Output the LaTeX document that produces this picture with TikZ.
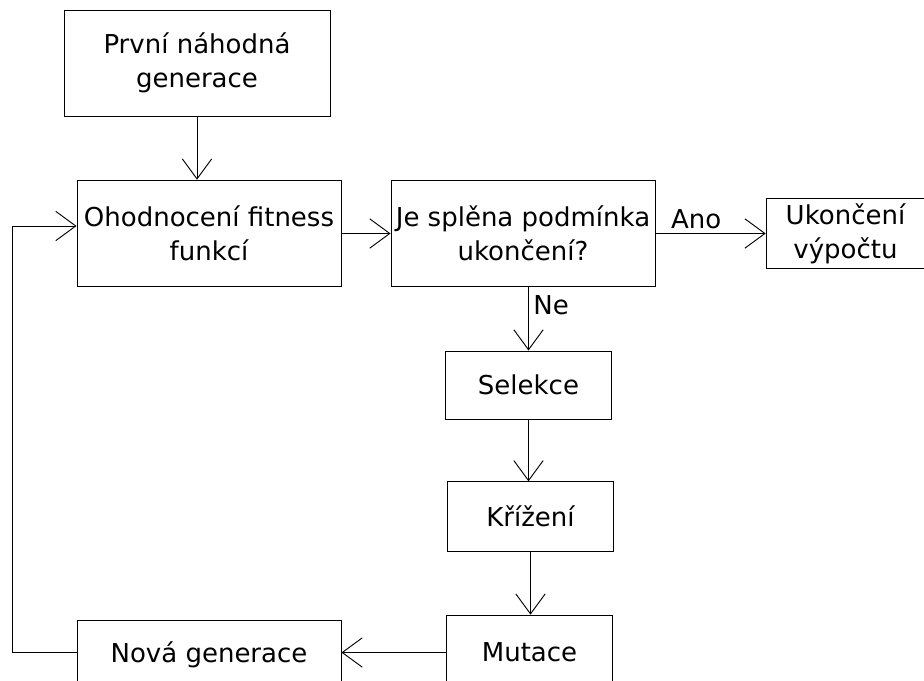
\documentclass[tikz,border=0pt]{standalone}
\usepackage{fontspec}
\setmainfont{DejaVu Sans}
\usetikzlibrary{arrows.meta}
\begin{document}
\begin{tikzpicture}[x=0.75pt,y=-0.75pt,line width=0.7pt,
  every node/.style={font=\fontsize{19.5}{25.5}\selectfont},
  box/.style={draw,align=center,inner sep=0pt},
  arr/.style={-{Straight Barb[length=15pt,width=22pt]}}]
\useasboundingbox (0,0) rectangle (924,681);
% boxes
\node[box,minimum width=199.5pt,minimum height=79.5pt] (prvni) at (197,63) {První náhodná\\generace};
\node[box,minimum width=198pt,minimum height=80pt] (ohodnoceni) at (209,233.5) {Ohodnocení fitness\\funkcí};
\node[box,minimum width=198pt,minimum height=79.5pt] (podminka) at (523,233) {Je splěna podmínka\\ukončení?};
\node[box,minimum width=119pt,minimum height=52pt] (konec) at (845.5,233.5) {Ukončení\\výpočtu};
\node[box,minimum width=124pt,minimum height=51pt] (selekce) at (528.5,385) {Selekce};
\node[box,minimum width=124pt,minimum height=52pt] (krizeni) at (530.5,516.5) {Křížení};
\node[box,minimum width=124pt,minimum height=56pt] (mutace) at (529.5,652.5) {Mutace};
\node[box,minimum width=198pt,minimum height=52pt] (nova) at (209,655) {Nová generace};
% connectors
\draw[arr] (prvni.south) -- (prvni.south |- ohodnoceni.north);
\draw[arr] (ohodnoceni.east) -- (ohodnoceni.east -| podminka.west);
\draw[arr] (podminka.east |- konec.west) -- (konec.west) node[pos=0.37,above] {Ano};
\draw[arr] (podminka.south -| selekce.north) -- (selekce.north) node[pos=0.3,right] {Ne};
\draw[arr] (selekce.south) -- (selekce.south |- krizeni.north);
\draw[arr] (krizeni.south) -- (krizeni.south |- mutace.north);
\draw[arr] (mutace.west) -- (mutace.west -| nova.east);
% loop back
\coordinate (lp) at (12,652);
\coordinate (lq) at (12,226);
\draw (nova.west |- lp) -- (lp) -- (lq);
\draw[arr] (lq) -- (lq -| ohodnoceni.west);
\end{tikzpicture}
\end{document}
